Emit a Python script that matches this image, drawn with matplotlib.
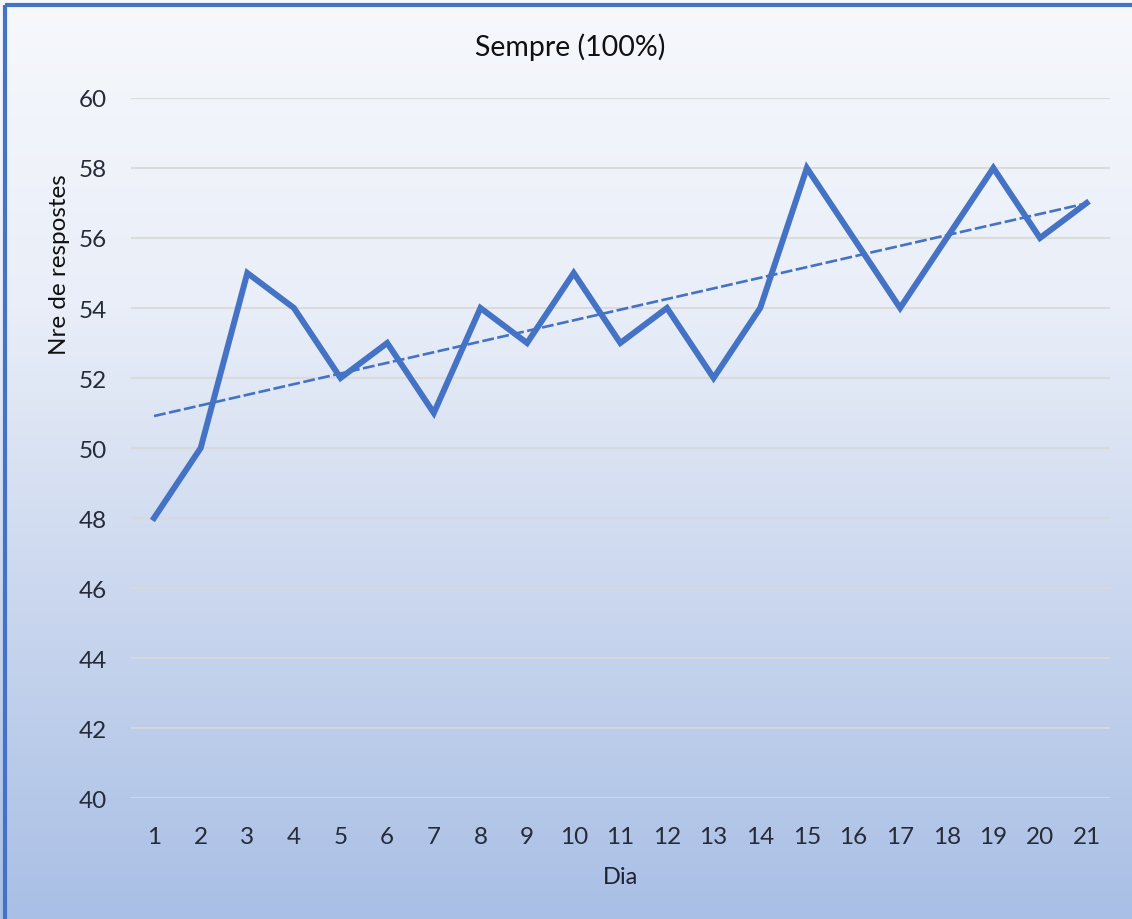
import numpy as np
import matplotlib
matplotlib.use("Agg")
import matplotlib.pyplot as plt
from matplotlib.colors import LinearSegmentedColormap

days = list(range(1, 22))
responses = [48, 50, 55, 54, 52, 53, 51, 54, 53, 55, 53, 54, 52, 54, 58, 56, 54, 56, 58, 56, 57]
title = "Sempre (100%)"
xlabel = "Dia"
ylabel = "Nre de respostes"

plt.rcParams['font.family'] = ['Lato', 'DejaVu Sans']

fig = plt.figure(figsize=(11.32, 9.2), dpi=100)

# background gradient (whole figure)
bg = fig.add_axes([0, 0, 1, 1], zorder=0)
grad = np.linspace(0, 1, 256).reshape(-1, 1)
cmap = LinearSegmentedColormap.from_list("bg", ["#f6f8fc", "#e9eef8", "#c9d6ee", "#a9bfe5"])
bg.imshow(grad, aspect='auto', cmap=cmap, extent=[0, 1, 0, 1], origin='upper')
bg.set_xlim(0, 1)
bg.set_ylim(0, 1)
bg.axis('off')
# frame border (left and top)
bg.plot([0.0045, 0.0045], [0, 0.9935], color='#4472c4', lw=3, solid_capstyle='butt')
bg.plot([0.0045, 1], [0.9935, 0.9935], color='#4472c4', lw=3, solid_capstyle='butt')

ax = fig.add_axes([0.1155, 0.1315, 0.865, 0.7609], zorder=1)
ax.patch.set_alpha(0)

ax.plot(days, responses, color='#4472c4', lw=4.3, solid_joinstyle='miter', zorder=3)

# linear trendline
coef = np.polyfit(days, responses, 1)
trend = np.polyval(coef, days)
ax.plot(days, trend, color='#4472c4', lw=1.9, linestyle=(0, (4.5, 1.3)), zorder=4)

ax.set_xlim(0.5, 21.5)
ax.set_ylim(40, 60)
ax.set_yticks(range(40, 61, 2))
ax.set_xticks(days)
ax.grid(axis='y', color='#d9d9d9', lw=1.5, alpha=0.9)
ax.set_axisbelow(True)
for s in ax.spines.values():
    s.set_visible(False)
ax.tick_params(length=0, labelsize=17.5, colors='#252b38')
ax.tick_params(axis='x', pad=20)
ax.tick_params(axis='y', pad=17)

fig.text(0.504, 0.949, title, fontsize=20.5, color='#111111', ha='center', va='center')
ax.set_xlabel(xlabel, fontsize=17, color='#1c2230', labelpad=14)
fig.text(60 / 1132, 1 - 265 / 920, ylabel, fontsize=17.5, color='#111111',
         rotation=90, ha='center', va='center')

fig.savefig("out.png", dpi=100)
